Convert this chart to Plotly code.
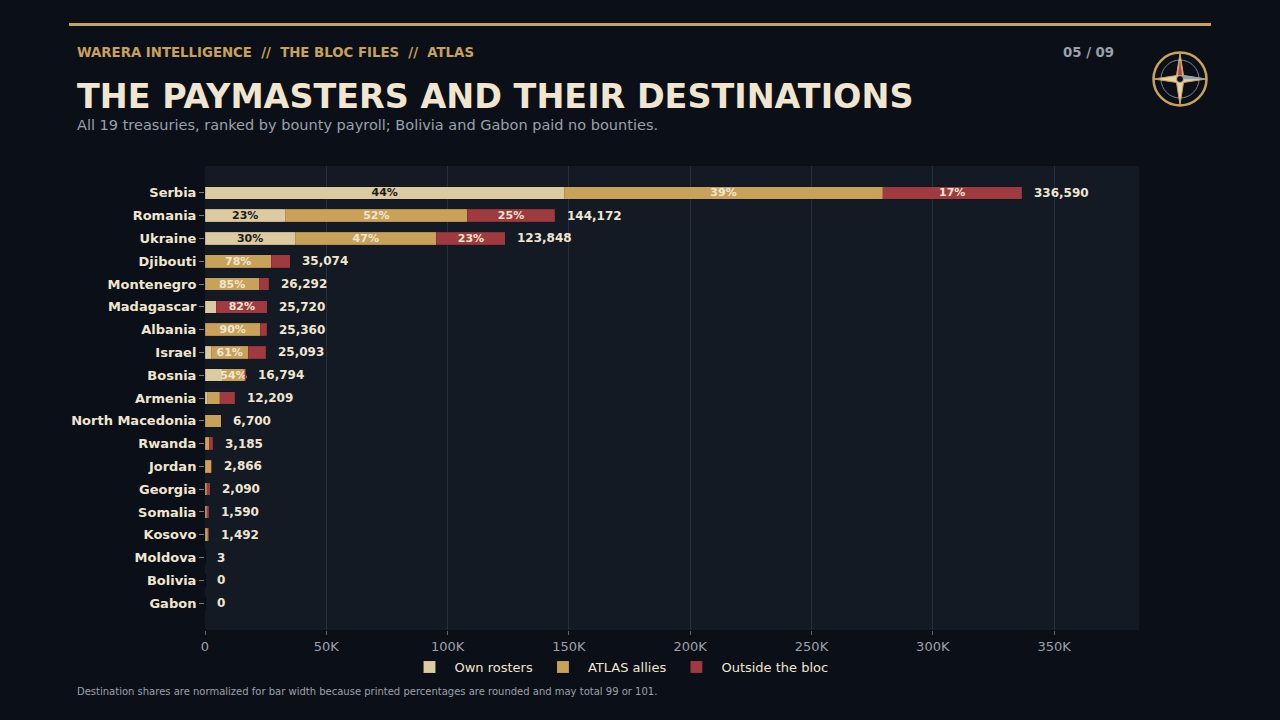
import plotly.graph_objects as go

# data
countries = ["Serbia", "Romania", "Ukraine", "Djibouti", "Montenegro", "Madagascar",
             "Albania", "Israel", "Bosnia", "Armenia", "North Macedonia", "Rwanda",
             "Jordan", "Georgia", "Somalia", "Kosovo", "Moldova", "Bolivia", "Gabon"]
totals = [336590, 144172, 123848, 35074, 26292, 25720, 25360, 25093, 16794, 12209,
          6700, 3185, 2866, 2090, 1590, 1492, 3, 0, 0]
own_pct = [44, 23, 30, 0, 0, 18, 0, 10, 43, 8, 0, 0, 0, 0, 0, 0, 0, 0, 0]
allies_pct = [39, 52, 47, 78, 85, 0, 90, 61, 54, 41, 100, 55, 90, 30, 40, 70, 100, 0, 0]
outside_pct = [17, 25, 23, 22, 15, 82, 10, 29, 3, 51, 0, 45, 10, 70, 60, 30, 0, 0, 0]

BG = "#0b0f17"
PLOT_BG = "#131a24"
CREAM = "#f0e6d0"
GOLD = "#c9a25a"
GREY = "#9ba1aa"
C_OWN = "#dccaa0"
C_ALLY = "#c9a25a"
C_OUT = "#9e3a40"

W, H = 1280, 720
L, R, T, B = 205, 141, 166, 90


def px(x):
    return (x - L) / (W - L - R)


def py(y):
    return (H - B - y) / (H - T - B)


def segments(pcts):
    vals, labels = [], []
    for i, p in enumerate(pcts):
        s = own_pct[i] + allies_pct[i] + outside_pct[i]
        v = totals[i] * p / s if s else 0
        vals.append(v)
        labels.append(f"{p}%" if v >= 8000 else "")
    return vals, labels


fig = go.Figure()
for name, pcts, col, tcol in [("Own rosters", own_pct, C_OWN, "#1b1b1b"),
                              ("ATLAS allies", allies_pct, C_ALLY, CREAM),
                              ("Outside the bloc", outside_pct, C_OUT, CREAM)]:
    vals, labels = segments(pcts)
    fig.add_trace(go.Bar(
        y=countries, x=vals, name=name, orientation="h",
        marker=dict(color=col, line=dict(color="rgba(0,0,0,0.18)", width=0.6)),
        text=labels, textposition="inside", insidetextanchor="middle",
        textangle=0, textfont=dict(color=tcol, size=11, family="DejaVu Sans", weight="bold"),
        width=0.55, hoverinfo="skip",
    ))

# totals after each bar
for c, t in zip(countries, totals):
    fig.add_annotation(x=t, y=c, text=f"{t:,}", showarrow=False, xanchor="left",
                       xshift=10, font=dict(color=CREAM, size=12, family="DejaVu Sans", weight="bold"))

fig.update_layout(
    width=W, height=H, paper_bgcolor=BG, plot_bgcolor=PLOT_BG,
    margin=dict(l=L, r=R, t=T, b=B), barmode="stack", bargap=0.45,
    uniformtext=dict(minsize=11, mode="show"),
    font=dict(family="DejaVu Sans", color=GREY),
    legend=dict(orientation="h", x=px(619), xanchor="center", y=py(667), yanchor="middle",
                font=dict(color=CREAM, size=13), itemwidth=40, traceorder="normal",
                bgcolor="rgba(0,0,0,0)"),
    xaxis=dict(range=[0, 385000], tickvals=[0, 50000, 100000, 150000, 200000, 250000, 300000, 350000],
               ticktext=["0", "50K", "100K", "150K", "200K", "250K", "300K", "350K"],
               showgrid=True, gridcolor="#243040", gridwidth=1, zeroline=False,
               ticks="outside", ticklen=4, tickcolor="#5a6270",
               tickfont=dict(color=GREY, size=13), showline=False),
    yaxis=dict(range=[19.18, -1.18], categoryorder="array", categoryarray=countries,
               ticks="outside", ticklen=5, tickcolor="#7a808a", showgrid=False,
               tickfont=dict(color=CREAM, size=13, weight="bold")),
)

fig.add_shape(type="line", xref="paper", yref="paper", x0=px(69), x1=px(1211),
              y0=py(24.5), y1=py(24.5), line=dict(color=GOLD, width=3))

nb = "\u00a0"
header = f"WARERA INTELLIGENCE{nb}{nb}//{nb}{nb}THE BLOC FILES{nb}{nb}//{nb}{nb}ATLAS"
texts = [
    (75, 52, header, 13.3, GOLD, "bold", "left"),
    (1116, 52, "05 / 09", 13.3, GREY, "bold", "right"),
    (75, 97, "THE PAYMASTERS AND THEIR DESTINATIONS", 33.4, CREAM, "bold", "left"),
    (75, 125, "All 19 treasuries, ranked by bounty payroll; Bolivia and Gabon paid no bounties.", 14.5, GREY, "normal", "left"),
    (75, 691, "Destination shares are normalized for bar width because printed percentages are rounded and may total 99 or 101.", 10, GREY, "normal", "left"),
]
for x, y, s, size, col, wt, anc in texts:
    fig.add_annotation(xref="paper", yref="paper", x=px(x), y=py(y), text=s, showarrow=False,
                       xanchor=anc, yanchor="middle",
                       font=dict(size=size, color=col, family="DejaVu Sans", weight=wt))

# compass badge
cx, cy = px(1180), py(79)


def badge(path, fill, line, width=1):
    fig.add_shape(type="path", xref="paper", yref="paper", xsizemode="pixel", ysizemode="pixel",
                  xanchor=cx, yanchor=cy, path=path, fillcolor=fill,
                  line=dict(color=line, width=width))


def circle(r, fill, line, width):
    fig.add_shape(type="circle", xref="paper", yref="paper", xsizemode="pixel", ysizemode="pixel",
                  xanchor=cx, yanchor=cy, x0=-r, x1=r, y0=-r, y1=r, fillcolor=fill,
                  line=dict(color=line, width=width))


circle(26.5, "rgba(0,0,0,0)", GOLD, 2.5)
circle(19, "rgba(0,0,0,0)", "#7d8794", 1)
badge("M 0 26 L 3.5 3.5 L 26 0 L 3.5 -3.5 L 0 -26 L -3.5 -3.5 L -26 0 L -3.5 3.5 Z", "#e4d3a6", GOLD, 1)
badge("M 0 3.5 L 3.5 0 L 26 0 L 3.5 3.5 Z", "#8fa2b8", "#8fa2b8", 0.5)
badge("M 0 18 L 2 4 L -2 4 Z", "#b8454a", "#b8454a", 0.5)
circle(3.5, BG, "#c0b28a", 1)

fig.write_html("out.html", config={"displayModeBar": False},
               post_script=f"document.body.style.margin='0';document.body.style.background='{BG}';")
